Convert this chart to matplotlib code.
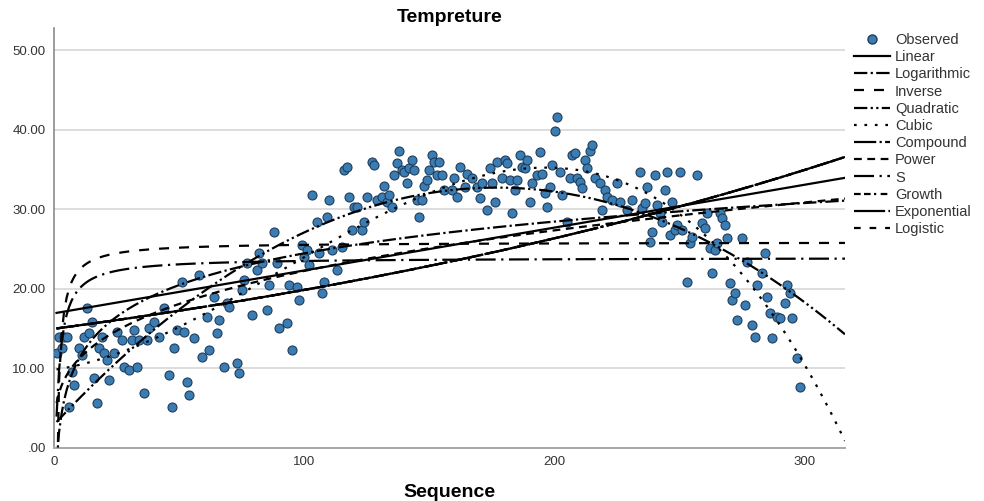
import numpy as np
import matplotlib
matplotlib.use("Agg")
import matplotlib.pyplot as plt
from matplotlib.lines import Line2D

plt.rcParams['font.family'] = ['Liberation Sans', 'DejaVu Sans']

# Observed temperatures by sequence number
sequence = [
    1, 2, 3, 4, 5, 6, 7, 8, 10, 11, 12, 13, 14, 15, 16, 17, 18, 19, 20, 21,
    22, 24, 25, 27, 28, 30, 31, 32, 33, 34, 36, 37, 38, 40, 42, 44, 46, 47, 48, 49,
    51, 52, 53, 54, 56, 58, 59, 61, 62, 64, 65, 66, 68, 69, 70, 73, 74, 75, 76, 77,
    79, 81, 82, 83, 85, 86, 88, 89, 90, 93, 94, 95, 97, 98, 99, 100, 101, 102, 103, 105,
    106, 107, 108, 109, 110, 111, 113, 115, 116, 117, 118, 119, 120, 121, 123, 124, 125, 127, 128, 129,
    131, 132, 133, 134, 135, 136, 137, 138, 139, 140, 141, 142, 143, 144, 145, 146, 147, 148, 149, 150,
    151, 152, 153, 154, 155, 156, 159, 160, 161, 162, 164, 165, 167, 169, 170, 171, 173, 174, 175, 176,
    177, 179, 180, 181, 182, 183, 184, 185, 186, 187, 188, 189, 190, 191, 193, 194, 195, 196, 197, 198,
    199, 200, 201, 202, 203, 205, 206, 207, 208, 209, 210, 211, 212, 213, 214, 215, 216, 218, 219, 220,
    221, 223, 225, 226, 229, 231, 234, 235, 236, 237, 238, 239, 240, 241, 242, 243, 244, 245, 246, 247,
    248, 249, 250, 251, 253, 254, 255, 257, 259, 260, 261, 262, 263, 264, 265, 266, 267, 268, 269, 270,
    271, 272, 273, 275, 276, 277, 279, 280, 281, 283, 284, 285, 286, 287, 289, 290, 292, 293, 294, 295,
    297, 298,
]
temperature = [
    11.9, 13.9, 12.6, 14.0, 13.9, 5.2, 9.5, 7.9, 12.6, 11.7, 13.9, 17.6, 14.4, 15.8, 8.8, 5.6, 12.6, 13.9, 11.9, 11.1,
    8.5, 11.9, 14.6, 13.6, 10.2, 9.8, 13.6, 14.8, 10.2, 13.6, 6.9, 13.6, 15.1, 15.8, 13.9, 17.6, 9.2, 5.2, 12.6, 14.8,
    20.9, 14.6, 8.3, 6.6, 13.8, 21.7, 11.4, 16.5, 12.3, 19.0, 14.4, 16.1, 10.2, 18.2, 17.7, 10.7, 9.4, 19.8, 21.1, 23.2,
    16.7, 22.4, 24.5, 23.2, 17.3, 20.5, 27.1, 23.2, 15.1, 15.7, 20.5, 12.3, 20.2, 18.6, 25.5, 24.0, 24.9, 23.0, 31.8, 28.4,
    24.5, 19.5, 20.9, 29.0, 31.2, 24.9, 22.4, 25.3, 34.9, 35.3, 31.5, 27.4, 30.3, 30.3, 27.4, 28.4, 31.5, 35.9, 35.6, 31.2,
    31.5, 33.0, 30.9, 31.8, 30.3, 34.3, 35.8, 37.4, 34.9, 34.7, 33.3, 35.2, 36.2, 34.9, 31.2, 29.0, 31.2, 33.0, 33.7, 34.9,
    36.8, 35.9, 34.3, 35.9, 34.3, 32.4, 32.4, 34.0, 31.5, 35.3, 32.8, 34.5, 34.0, 32.8, 31.4, 33.3, 29.9, 35.2, 33.3, 30.9,
    35.9, 34.0, 36.2, 35.8, 33.7, 29.6, 32.4, 33.7, 36.8, 35.3, 35.2, 36.2, 30.9, 33.3, 34.3, 37.2, 34.5, 32.0, 30.3, 32.8,
    35.6, 39.9, 41.6, 34.7, 31.8, 28.4, 34.0, 36.8, 37.1, 34.0, 33.4, 32.7, 36.2, 35.2, 37.4, 38.1, 33.9, 33.3, 29.9, 32.4,
    31.5, 31.2, 33.3, 30.9, 29.9, 31.2, 34.7, 30.2, 30.8, 32.8, 25.9, 27.1, 34.3, 30.5, 29.5, 28.4, 32.4, 34.7, 26.8, 30.9,
    27.4, 28.0, 34.7, 27.4, 20.9, 25.8, 26.5, 34.3, 28.3, 27.6, 29.5, 25.1, 22.0, 24.9, 25.8, 29.5, 28.9, 28.0, 26.4, 20.7,
    18.6, 19.5, 16.1, 26.4, 18.0, 23.4, 15.5, 13.9, 20.5, 22.0, 24.5, 19.0, 17.0, 13.8, 16.5, 16.3, 18.2, 20.5, 19.5, 16.3,
    11.3, 7.7,
]

seq_max = 316
y_max = 52.8
y_ticks = [0, 10, 20, 30, 40, 50]
x_ticks = [0, 100, 200, 300]

t = np.asarray(sequence, dtype=float)
y = np.asarray(temperature, dtype=float)
ly = np.log(y)
tt = np.arange(1, seq_max + 1, dtype=float)

# Curve estimation models
b = np.polyfit(t, y, 1);           linear = np.polyval(b, tt)
b = np.polyfit(np.log(t), y, 1);   logarithmic = np.polyval(b, np.log(tt))
b = np.polyfit(1 / t, y, 1);       inverse = np.polyval(b, 1 / tt)
b = np.polyfit(t, y, 2);           quadratic = np.polyval(b, tt)
b = np.polyfit(t, y, 3);           cubic = np.polyval(b, tt)
b = np.polyfit(t, ly, 1);          expo = np.exp(np.polyval(b, tt))
b = np.polyfit(np.log(t), ly, 1);  power = np.exp(np.polyval(b, np.log(tt)))
b = np.polyfit(1 / t, ly, 1);      s_curve = np.exp(np.polyval(b, 1 / tt))

models = [
    ("Linear", linear, "-"),
    ("Logarithmic", logarithmic, (0, (6, 1.5, 1, 1.5))),
    ("Inverse", inverse, (0, (4.5, 4.5))),
    ("Quadratic", quadratic, (0, (6, 1.5, 1, 1.5, 1, 1.5))),
    ("Cubic", cubic, (0, (1.2, 3.5))),
    ("Compound", expo, (0, (10, 1.5, 1, 1.5))),
    ("Power", power, (0, (3.5, 2.5))),
    ("S", s_curve, (0, (9, 2.5, 1, 2.5))),
    ("Growth", expo, (0, (3, 1.5, 3, 1.5, 1, 2))),
    ("Exponential", expo, (0, (14, 1.5, 1, 1.5))),
    ("Logistic", expo, (0, (3, 4))),
]

fig = plt.figure(figsize=(9.84, 5.01), dpi=100)
ax = fig.add_axes([0.0549, 0.1058, 0.8038, 0.8383])

for yt in y_ticks[1:]:
    ax.axhline(yt, color="#dadada", lw=1.3, zorder=0)

ax.scatter(t, y, s=42, facecolor="#3b7db3", edgecolor="#1e3d5c", linewidth=0.8, zorder=3)

for name, curve, ls in models:
    ax.plot(tt, curve, color="black", lw=1.6, linestyle=ls, zorder=4)

ax.set_xlim(0, seq_max)
ax.set_ylim(0, y_max)
ax.set_xticks(x_ticks)
ax.set_xticklabels([str(v) for v in x_ticks])
ax.set_yticks(y_ticks)
ax.set_yticklabels([(f"{v:.2f}" if v else ".00") for v in y_ticks])
ax.tick_params(length=0, labelsize=9.5, colors="#333333", pad=6)

for side in ("top", "right"):
    ax.spines[side].set_visible(False)
ax.spines["left"].set_color("#8a8a8a")
ax.spines["bottom"].set_color("#a8a8a8")
ax.spines["left"].set_linewidth(1.2)
ax.spines["bottom"].set_linewidth(1.4)

ax.set_title("Tempreture", fontsize=14, fontweight="bold", pad=4)
ax.set_xlabel("Sequence", fontsize=14, fontweight="bold", labelpad=11)

handles = [Line2D([], [], marker="o", linestyle="none", markersize=6.5,
                  markerfacecolor="#3b7db3", markeredgecolor="#1e3d5c")]
labels = ["Observed"]
for name, curve, ls in models:
    handles.append(Line2D([], [], color="black", lw=1.6, linestyle=ls))
    labels.append(name)

fig.legend(handles, labels, loc="upper left", bbox_to_anchor=(0.862, 0.946),
           frameon=False, fontsize=10.5, handlelength=2.5, handletextpad=0.3,
           labelspacing=0.22, labelcolor="#333333", borderaxespad=0)

fig.savefig("out.png", dpi=100)
